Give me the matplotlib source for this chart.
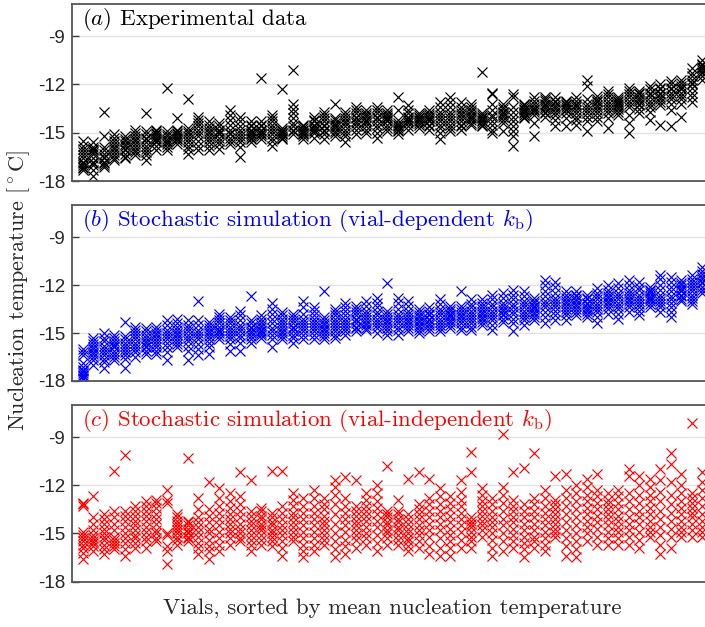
import numpy as np
import matplotlib
matplotlib.use('Agg')
import matplotlib.pyplot as plt

# nucleation temperatures per vial (vials sorted by mean)
exp_data = [
    [-15.5, -15.8, -16.0, -16.2, -16.4, -16.6, -16.8, -16.9, -17.0, -17.1, -17.2, -17.3],
    [-15.6, -15.9, -16.0, -16.1, -16.2, -16.3, -16.6, -16.8, -16.9, -17.0, -17.3, -17.7],
    [-13.7, -15.2, -15.9, -16.1, -16.3, -16.5, -16.6, -16.8, -16.9, -17.0, -17.1],
    [-15.1, -15.3, -15.5, -15.7, -15.9, -16.0, -16.2, -16.4, -16.6, -16.7],
    [-15.2, -15.4, -15.5, -15.7, -15.8, -16.0, -16.1, -16.3, -16.5, -16.6],
    [-14.8, -15.0, -15.2, -15.4, -15.5, -15.7, -15.9, -16.1, -16.2, -16.4],
    [-13.8, -14.9, -15.1, -15.3, -15.4, -15.6, -15.8, -16.0, -16.2, -16.4, -16.7],
    [-14.8, -14.9, -15.0, -15.1, -15.2, -15.3, -15.4, -15.5, -15.6, -15.8, -16.1],
    [-12.2, -14.9, -15.1, -15.2, -15.4, -15.5, -15.6, -15.7, -15.9, -16.1],
    [-14.1, -14.8, -14.9, -15.0, -15.1, -15.2, -15.3, -15.4, -15.5, -15.7],
    [-12.9, -14.7, -14.9, -15.0, -15.2, -15.4, -15.6, -15.8, -16.0, -16.3],
    [-14.0, -14.2, -14.4, -14.6, -14.8, -15.0, -15.2, -15.5, -15.8, -16.1],
    [-14.3, -14.5, -14.7, -14.9, -15.0, -15.2, -15.4, -15.6, -15.8, -16.1],
    [-14.4, -14.6, -14.8, -14.9, -15.0, -15.1, -15.3, -15.5, -15.7, -16.0],
    [-13.6, -13.9, -14.2, -14.5, -14.8, -15.0, -15.1, -15.3, -15.5, -15.7],
    [-14.0, -14.3, -14.6, -14.8, -15.0, -15.2, -15.4, -15.6, -15.9, -16.5],
    [-14.3, -14.5, -14.6, -14.8, -14.9, -15.0, -15.1, -15.2, -15.3, -15.4, -15.6],
    [-11.6, -14.3, -14.5, -14.6, -14.8, -14.9, -15.0, -15.1, -15.2, -15.4],
    [-13.9, -14.1, -14.3, -14.5, -14.7, -14.9, -15.1, -15.3, -15.5, -15.8],
    [-12.3, -14.7, -14.8, -14.9, -15.0, -15.0, -15.1, -15.2, -15.3, -15.4],
    [-11.1, -13.2, -13.5, -13.8, -14.1, -14.4, -14.6, -14.8, -14.9, -15.1],
    [-14.5, -14.6, -14.7, -14.8, -14.9, -15.0, -15.0, -15.1, -15.2, -15.4],
    [-14.0, -14.2, -14.3, -14.5, -14.6, -14.7, -14.8, -14.9, -15.0, -15.3],
    [-13.7, -13.9, -14.1, -14.3, -14.5, -14.6, -14.8, -14.9, -15.1, -15.4],
    [-13.2, -14.1, -14.2, -14.4, -14.5, -14.6, -14.7, -14.9, -15.0, -15.2],
    [-13.7, -13.9, -14.1, -14.3, -14.4, -14.6, -14.8, -15.0, -15.2, -15.6],
    [-13.4, -13.6, -13.8, -14.0, -14.1, -14.3, -14.4, -14.6, -14.8, -15.1],
    [-13.6, -13.8, -13.9, -14.0, -14.2, -14.3, -14.4, -14.6, -14.8, -15.0],
    [-13.4, -13.6, -13.8, -14.0, -14.1, -14.3, -14.5, -14.7, -15.0, -15.3],
    [-13.6, -13.8, -13.9, -14.0, -14.1, -14.2, -14.3, -14.5, -14.7, -14.9],
    [-12.8, -13.6, -14.2, -14.4, -14.5, -14.6, -14.7, -14.8, -14.9, -15.1],
    [-13.3, -13.6, -13.8, -14.0, -14.1, -14.2, -14.3, -14.4, -14.6, -14.8],
    [-13.8, -13.9, -14.0, -14.1, -14.2, -14.3, -14.4, -14.5, -14.7],
    [-13.6, -13.8, -13.9, -14.0, -14.1, -14.2, -14.3, -14.5, -14.6, -14.8],
    [-13.1, -13.4, -13.7, -13.9, -14.1, -14.3, -14.5, -14.7, -15.0, -15.4],
    [-12.8, -13.1, -13.4, -13.7, -13.9, -14.1, -14.3, -14.5, -14.7, -14.9],
    [-13.1, -13.4, -13.6, -13.8, -13.9, -14.1, -14.3, -14.5, -14.6, -14.8],
    [-13.2, -13.4, -13.6, -13.7, -13.9, -14.0, -14.1, -14.2, -14.4, -14.5],
    [-11.2, -13.8, -13.9, -14.0, -14.1, -14.2, -14.3, -14.4, -14.5, -14.6],
    [-12.5, -12.6, -13.2, -13.6, -13.9, -14.0, -14.3, -14.5, -14.8, -15.0],
    [-13.2, -13.4, -13.5, -13.7, -13.8, -13.9, -14.0, -14.2, -14.4, -14.9],
    [-12.6, -12.8, -13.4, -13.7, -14.0, -14.3, -14.6, -14.9, -15.2, -15.8],
    [-13.2, -13.3, -13.4, -13.5, -13.6, -13.7, -13.8, -13.9, -14.0, -14.1],
    [-12.8, -13.0, -13.2, -13.4, -13.5, -13.6, -13.7, -13.9, -14.4, -15.2],
    [-12.8, -12.9, -13.0, -13.2, -13.3, -13.4, -13.5, -13.7, -13.8, -14.0],
    [-12.8, -13.0, -13.1, -13.3, -13.4, -13.5, -13.7, -13.9, -14.2, -14.6],
    [-13.0, -13.1, -13.2, -13.3, -13.4, -13.5, -13.6, -13.8, -14.1, -14.6],
    [-12.8, -13.0, -13.2, -13.3, -13.4, -13.6, -13.8, -14.0, -14.2, -14.5],
    [-11.7, -12.1, -12.9, -13.2, -13.4, -13.6, -13.8, -14.0, -14.3, -14.9],
    [-12.7, -12.9, -13.0, -13.1, -13.3, -13.4, -13.6, -13.8, -14.0, -14.3],
    [-12.4, -12.6, -12.8, -13.0, -13.2, -13.4, -13.6, -13.8, -14.1, -14.7],
    [-12.8, -12.9, -13.0, -13.1, -13.2, -13.3, -13.4, -13.5, -13.7, -13.9],
    [-12.2, -12.4, -12.6, -12.8, -13.0, -13.2, -13.4, -13.9, -14.4, -15.0],
    [-12.4, -12.5, -12.6, -12.8, -12.9, -13.0, -13.2, -13.3, -13.5, -13.8],
    [-12.1, -12.3, -12.5, -12.6, -12.8, -13.0, -13.2, -13.4, -13.7, -14.2],
    [-12.0, -12.2, -12.3, -12.5, -12.6, -12.8, -12.9, -13.1, -13.3, -14.5],
    [-11.8, -12.0, -12.2, -12.3, -12.5, -12.7, -12.9, -13.2, -13.6, -14.6],
    [-11.7, -11.9, -12.1, -12.2, -12.3, -12.5, -12.7, -12.9, -13.2, -14.0],
    [-11.0, -11.3, -11.5, -11.7, -11.9, -12.0, -12.2, -12.5, -12.8, -13.1],
    [-10.5, -10.7, -10.8, -10.9, -11.0, -11.1, -11.2, -11.3, -11.5, -11.7],
]

sim_dep = [
    [-16.0, -16.2, -16.4, -16.9, -17.1, -17.3, -17.4, -17.5, -17.6, -17.7, -17.8, -17.9],
    [-15.3, -15.5, -15.7, -15.9, -16.0, -16.2, -16.3, -16.5, -16.7, -17.0],
    [-15.0, -15.3, -15.5, -15.8, -16.0, -16.2, -16.4, -16.6, -16.8, -17.2],
    [-15.1, -15.3, -15.5, -15.7, -15.8, -15.9, -16.1, -16.3, -16.5, -16.7],
    [-14.3, -15.2, -15.4, -15.6, -15.8, -16.0, -16.2, -16.4, -16.6, -17.2],
    [-14.6, -14.8, -15.0, -15.2, -15.4, -15.6, -15.8, -16.0, -16.2, -16.5],
    [-14.7, -14.9, -15.1, -15.3, -15.5, -15.6, -15.8, -15.9, -16.1, -16.3],
    [-14.6, -14.8, -15.0, -15.1, -15.3, -15.5, -15.7, -15.9, -16.1, -16.3],
    [-14.2, -14.5, -14.8, -15.0, -15.2, -15.4, -15.6, -15.9, -16.2, -16.7],
    [-14.1, -14.4, -14.6, -14.8, -15.0, -15.1, -15.3, -15.5, -15.7, -15.9],
    [-14.2, -14.5, -14.7, -14.9, -15.1, -15.3, -15.5, -15.8, -16.1, -16.7],
    [-13.0, -14.2, -14.5, -14.8, -15.0, -15.2, -15.4, -15.7, -16.0, -16.4],
    [-14.3, -14.5, -14.7, -14.9, -15.0, -15.2, -15.4, -15.6, -15.9, -16.3],
    [-13.8, -14.0, -14.2, -14.4, -14.6, -14.8, -14.9, -15.0, -15.2, -15.4],
    [-14.0, -14.2, -14.4, -14.6, -14.8, -15.0, -15.2, -15.4, -15.7, -16.1],
    [-13.6, -13.9, -14.2, -14.5, -14.7, -14.9, -15.1, -15.3, -15.6, -16.1],
    [-12.7, -14.2, -14.4, -14.6, -14.7, -14.9, -15.0, -15.2, -15.4, -15.6],
    [-13.9, -14.1, -14.3, -14.5, -14.6, -14.8, -14.9, -15.0, -15.1, -15.3],
    [-13.1, -13.5, -13.8, -14.1, -14.4, -14.7, -14.9, -15.1, -15.4, -15.9],
    [-13.7, -13.9, -14.1, -14.3, -14.5, -14.7, -14.9, -15.0, -15.2, -15.4],
    [-13.8, -14.0, -14.2, -14.4, -14.6, -14.7, -14.9, -15.1, -15.3, -15.6],
    [-13.0, -13.4, -13.8, -14.1, -14.3, -14.5, -14.7, -14.9, -15.1, -15.4],
    [-13.4, -13.6, -13.9, -14.1, -14.3, -14.5, -14.7, -14.9, -15.1, -15.4],
    [-12.4, -14.0, -14.2, -14.4, -14.5, -14.7, -14.8, -15.0, -15.2, -15.4],
    [-13.5, -13.7, -13.9, -14.1, -14.3, -14.5, -14.7, -14.9, -15.1, -15.3],
    [-13.1, -13.4, -13.6, -13.9, -14.1, -14.3, -14.5, -14.7, -14.9, -15.1],
    [-13.3, -13.5, -13.7, -13.9, -14.1, -14.2, -14.4, -14.6, -14.7, -14.9],
    [-13.0, -13.3, -13.6, -13.8, -14.0, -14.2, -14.4, -14.5, -14.7, -14.8],
    [-12.8, -13.1, -13.4, -13.7, -13.9, -14.1, -14.3, -14.5, -14.7, -15.0],
    [-11.9, -13.6, -13.8, -14.0, -14.2, -14.3, -14.5, -14.7, -14.9, -15.1],
    [-12.8, -13.1, -13.5, -13.8, -14.0, -14.2, -14.4, -14.6, -14.8, -15.1],
    [-13.0, -13.3, -13.6, -13.8, -14.0, -14.2, -14.3, -14.5, -14.7, -14.9],
    [-13.5, -13.7, -13.9, -14.0, -14.2, -14.3, -14.5, -14.6, -14.8, -15.0],
    [-13.4, -13.6, -13.8, -13.9, -14.1, -14.2, -14.4, -14.5, -14.7, -14.9],
    [-12.9, -13.2, -13.5, -13.7, -13.9, -14.1, -14.3, -14.5, -14.7, -14.9],
    [-13.3, -13.5, -13.6, -13.8, -13.9, -14.0, -14.2, -14.3, -14.5, -14.7],
    [-12.4, -13.3, -13.5, -13.7, -13.9, -14.0, -14.2, -14.4, -14.6, -14.8],
    [-12.9, -13.2, -13.4, -13.6, -13.8, -14.0, -14.2, -14.4, -14.6, -14.8],
    [-12.9, -13.1, -13.3, -13.5, -13.7, -13.8, -14.0, -14.1, -14.3, -14.5],
    [-12.6, -12.9, -13.2, -13.4, -13.6, -13.8, -14.0, -14.2, -14.5, -14.8],
    [-12.5, -12.8, -13.1, -13.3, -13.5, -13.6, -13.8, -13.9, -14.1, -14.3],
    [-12.3, -12.6, -12.9, -13.2, -13.4, -13.6, -13.8, -14.1, -14.4, -14.9],
    [-12.4, -12.7, -13.0, -13.2, -13.4, -13.6, -13.8, -14.0, -14.2, -14.5],
    [-12.8, -13.0, -13.1, -13.3, -13.4, -13.5, -13.7, -13.8, -14.0, -14.2],
    [-11.7, -12.0, -12.4, -12.7, -13.0, -13.2, -13.4, -13.7, -14.0, -14.4],
    [-11.8, -12.1, -12.5, -12.8, -13.0, -13.2, -13.4, -13.6, -13.9, -14.2],
    [-12.4, -12.6, -12.8, -13.0, -13.1, -13.3, -13.5, -13.7, -13.9, -14.2],
    [-12.4, -12.6, -12.7, -12.9, -13.0, -13.2, -13.3, -13.5, -13.7, -13.9],
    [-12.6, -12.8, -12.9, -13.1, -13.2, -13.4, -13.5, -13.6, -13.8, -14.0],
    [-12.2, -12.5, -12.7, -12.9, -13.1, -13.3, -13.5, -13.7, -14.0, -14.4],
    [-12.0, -12.3, -12.5, -12.7, -12.8, -13.0, -13.1, -13.3, -13.5, -13.8],
    [-11.9, -12.2, -12.5, -12.7, -12.9, -13.1, -13.3, -13.5, -13.8, -14.1],
    [-11.7, -12.0, -12.3, -12.5, -12.7, -12.9, -13.0, -13.2, -13.4, -13.7],
    [-11.8, -12.1, -12.3, -12.6, -12.8, -13.0, -13.2, -13.4, -13.6, -13.9],
    [-12.1, -12.3, -12.4, -12.5, -12.7, -12.8, -12.9, -13.0, -13.2, -13.35],
    [-11.4, -11.6, -12.0, -12.3, -12.6, -12.8, -13.0, -13.2, -13.4, -13.7],
    [-11.5, -11.8, -12.1, -12.4, -12.7, -12.9, -13.1, -13.4, -13.7, -14.0],
    [-11.7, -11.9, -12.0, -12.2, -12.3, -12.4, -12.6, -12.7, -12.9, -13.0],
    [-11.4, -11.6, -11.8, -12.0, -12.2, -12.4, -12.6, -12.8, -13.0, -13.2],
    [-10.9, -11.1, -11.3, -11.5, -11.6, -11.8, -11.9, -12.1, -12.3, -12.5],
]

sim_indep = [
    [-13.1, -13.2, -13.3, -14.9, -15.1, -15.3, -15.5, -15.7, -15.9, -16.2, -16.6],
    [-12.7, -14.0, -14.4, -14.8, -15.1, -15.3, -15.5, -15.6, -15.8, -16.1],
    [-13.8, -14.1, -14.4, -14.7, -15.0, -15.2, -15.4, -15.7, -16.0, -16.3],
    [-11.1, -13.6, -14.0, -14.4, -14.8, -15.2, -15.4, -15.6, -15.8, -16.0],
    [-10.1, -13.6, -13.9, -14.2, -14.6, -15.0, -15.3, -15.6, -16.0, -16.4],
    [-13.3, -13.6, -13.9, -14.2, -14.5, -14.8, -15.1, -15.3, -15.6, -15.9],
    [-13.0, -13.3, -13.6, -13.9, -14.2, -14.6, -14.9, -15.2, -15.5, -15.9],
    [-12.9, -13.1, -13.4, -13.8, -14.1, -14.4, -14.8, -15.0, -15.3, -15.5],
    [-12.3, -12.9, -13.1, -15.0, -15.1, -15.8, -16.1, -16.9],
    [-13.8, -14.0, -14.2, -14.4, -14.6, -14.8, -15.0, -15.2, -15.4, -15.7],
    [-10.3, -14.2, -14.3, -14.5, -14.7, -14.9, -15.0, -15.2, -15.3, -15.5],
    [-12.8, -13.5, -14.0, -14.3, -14.6, -14.9, -15.2, -15.6, -15.9, -16.3],
    [-11.8, -13.5, -13.9, -14.3, -14.7, -15.0, -15.4, -15.8, -16.1, -16.6],
    [-12.2, -12.8, -13.3, -13.7, -14.1, -14.5, -14.9, -15.3, -15.7, -16.1],
    [-12.5, -13.0, -13.4, -13.8, -14.1, -14.4, -14.7, -15.0, -15.3, -15.7],
    [-11.2, -12.7, -13.2, -13.6, -14.0, -14.4, -14.7, -15.0, -15.3, -15.5],
    [-11.7, -13.6, -13.9, -14.2, -14.5, -14.8, -15.1, -15.4, -15.7, -16.1],
    [-13.4, -13.6, -13.9, -14.1, -14.4, -14.6, -14.8, -15.1, -15.4, -15.7],
    [-11.1, -13.7, -14.0, -14.3, -14.5, -14.8, -15.0, -15.2, -15.5, -15.8],
    [-11.1, -13.3, -13.7, -14.1, -14.5, -14.8, -15.1, -15.5, -15.9, -16.4],
    [-12.5, -12.9, -13.3, -13.7, -14.0, -14.3, -14.6, -14.9, -15.2, -15.5],
    [-12.8, -13.3, -13.7, -14.1, -14.5, -14.9, -15.3, -15.7, -16.1, -16.5],
    [-12.3, -12.8, -13.3, -13.7, -14.1, -14.5, -14.9, -15.3, -15.7, -16.1],
    [-12.8, -13.2, -13.5, -13.9, -14.2, -14.5, -14.8, -15.1, -15.4, -15.7],
    [-11.7, -12.1, -12.6, -13.2, -13.8, -14.4, -15.0, -15.5, -16.0, -16.5],
    [-11.5, -12.8, -13.3, -13.7, -14.1, -14.5, -14.9, -15.4, -15.8, -16.3],
    [-11.7, -13.3, -13.6, -13.9, -14.2, -14.5, -14.8, -15.1, -15.4, -15.9],
    [-12.5, -12.9, -13.3, -13.6, -13.9, -14.2, -14.6, -15.0, -15.3, -15.7],
    [-12.0, -12.5, -13.0, -13.4, -13.8, -14.2, -14.6, -15.1, -15.6, -16.1],
    [-10.8, -13.6, -13.8, -14.0, -14.3, -14.5, -14.8, -15.0, -15.3, -15.7],
    [-12.9, -13.6, -13.8, -14.1, -14.3, -14.6, -14.8, -15.1, -15.4, -15.7],
    [-11.6, -13.8, -14.1, -14.4, -14.7, -15.0, -15.3, -15.5, -15.8, -16.1],
    [-11.2, -13.2, -13.5, -13.8, -14.1, -14.5, -14.8, -15.1, -15.5, -15.9],
    [-11.6, -12.8, -13.2, -13.6, -14.0, -14.4, -14.8, -15.2, -15.8, -16.3],
    [-12.2, -12.7, -13.2, -13.6, -14.0, -14.4, -14.8, -15.3, -15.9, -16.4],
    [-12.7, -13.1, -13.5, -13.9, -14.3, -14.7, -15.1, -15.5, -15.9, -16.4],
    [-11.7, -12.4, -12.9, -13.3, -13.7, -14.1, -14.5, -14.9, -15.4, -15.9],
    [-9.9, -11.2, -14.0, -14.2, -14.4, -14.6, -14.9, -15.2, -15.5, -15.9],
    [-12.2, -12.6, -13.0, -13.3, -13.6, -13.9, -14.2, -14.5, -14.8, -15.2],
    [-12.8, -13.2, -13.6, -14.0, -14.3, -14.6, -15.0, -15.4, -15.9, -16.4],
    [-8.8, -12.1, -12.6, -13.1, -13.6, -14.1, -14.5, -15.0, -15.5, -16.1],
    [-11.2, -12.9, -13.3, -13.6, -14.0, -14.3, -14.7, -15.1, -15.5, -15.9],
    [-10.9, -13.2, -13.6, -14.0, -14.4, -14.8, -15.2, -15.6, -16.0, -16.5],
    [-10.0, -12.8, -13.2, -13.6, -14.0, -14.4, -14.8, -15.2, -15.5, -15.9],
    [-12.3, -12.8, -13.3, -13.7, -14.1, -14.5, -14.9, -15.3, -15.7, -16.1],
    [-11.4, -12.9, -13.2, -13.5, -13.8, -14.1, -14.4, -14.7, -15.0, -15.2],
    [-11.3, -12.3, -12.8, -13.3, -13.8, -14.3, -14.8, -15.3, -15.8, -16.4],
    [-12.0, -12.5, -13.0, -13.5, -14.0, -14.5, -15.0, -15.5, -16.0, -16.5],
    [-11.6, -12.1, -12.6, -13.0, -13.4, -13.8, -14.2, -14.6, -15.0, -15.5],
    [-11.3, -12.3, -12.7, -13.1, -13.5, -13.9, -14.3, -14.7, -15.2, -15.7],
    [-12.5, -12.9, -13.2, -13.5, -13.8, -14.1, -14.5, -14.9, -15.3, -15.7],
    [-12.3, -12.7, -13.1, -13.5, -13.9, -14.2, -14.6, -14.9, -15.3, -15.7],
    [-11.0, -11.4, -12.5, -13.0, -13.5, -14.0, -14.4, -14.8, -15.2, -15.7],
    [-11.4, -12.0, -12.6, -13.1, -13.6, -14.0, -14.4, -14.9, -15.4, -15.9],
    [-11.6, -12.1, -12.6, -13.0, -13.4, -13.8, -14.2, -14.6, -14.9, -15.2],
    [-11.0, -11.7, -12.4, -13.0, -13.6, -14.1, -14.6, -15.1, -15.7, -16.3],
    [-10.0, -10.7, -11.8, -12.6, -13.2, -13.7, -14.2, -14.7, -15.2, -15.9],
    [-11.3, -12.0, -12.5, -13.0, -13.4, -13.8, -14.2, -14.6, -14.9, -15.2],
    [-8.1, -12.5, -12.8, -13.1, -13.4, -13.7, -14.0, -14.4, -14.8, -15.2],
    [-11.2, -11.8, -12.3, -12.8, -13.3, -13.8, -14.2, -14.6, -14.9, -15.2],
]

titles = [r'$(a)$ Experimental data',
          r'$(b)$ Stochastic simulation (vial-dependent $k_\mathrm{b}$)',
          r'$(c)$ Stochastic simulation (vial-independent $k_\mathrm{b}$)']
colors = ['black', 'blue', 'red']
yticks = [-18, -15, -12, -9]

plt.rcParams['mathtext.fontset'] = 'cm'
plt.rcParams['axes.formatter.use_mathtext'] = True

fig = plt.figure(figsize=(7.05, 6.27), dpi=100)

# axes boxes in figure pixels: top, bottom (figure is 705 x 627, right side cropped)
W, H = 705.0, 627.0
boxes = [(4, 181), (205, 381), (405, 581.5)]
left_px = 72.0
width_px = 640.5

for k, data in enumerate([exp_data, sim_dep, sim_indep]):
    top, bot = boxes[k]
    ax = fig.add_axes([left_px / W, 1 - bot / H, width_px / W, (bot - top) / H])
    for i, vals in enumerate(data):
        x = np.full(len(vals), i + 1)
        ax.plot(x, vals, linestyle='none', marker='x', color=colors[k],
                markersize=6.8, markeredgewidth=0.85)
    ax.set_xlim(0, 61)
    ax.set_ylim(-18, -7)
    ax.set_xticks([])
    ax.set_yticks(yticks)
    ax.set_yticklabels(['-18', '-15', '-12', '-9'], family='Liberation Sans',
                       fontsize=13.5, color='#262626')
    ax.tick_params(axis='y', direction='in', length=5, width=1, color='#404040', pad=5)
    ax.grid(axis='y', color='#e3e3e3', linewidth=1)
    ax.set_axisbelow(True)
    for s in ax.spines.values():
        s.set_color('#555555')
        s.set_linewidth(1.3)
    ax.text(0.016, 0.99, titles[k], transform=ax.transAxes, ha='left', va='top',
            fontsize=16.5, family='cmr10', color=colors[k])

fig.text(0.026, 0.536, r'Nucleation temperature [$^\circ$C]', rotation=90,
         ha='center', va='center', fontsize=16, family='cmr10', color='#262626')
fig.text(0.5567, 0.030, 'Vials, sorted by mean nucleation temperature',
         ha='center', va='center', fontsize=16.5, family='cmr10', color='#262626')

fig.savefig('out.png', dpi=100)
